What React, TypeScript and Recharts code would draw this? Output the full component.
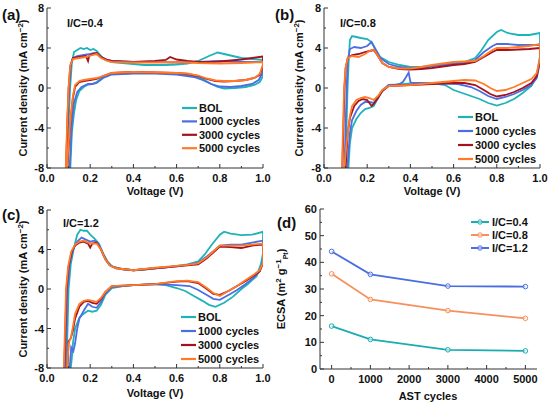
import React from 'react';
import { LineChart, Line, XAxis, YAxis } from 'recharts';

type P = [number, number];

const seriesNames = ['BOL', '1000 cycles', '3000 cycles', '5000 cycles'];
const seriesColors = ['#1db3b9', '#4b6fe3', '#a3121f', '#ff7b29'];

const cvTicksX = [0, 0.1, 0.2, 0.3, 0.4, 0.5, 0.6, 0.7, 0.8, 0.9, 1.0];
const cvTicksY = [-8, -6, -4, -2, 0, 2, 4, 6, 8];

// ---------- Panel (a) I/C=0.4 ----------
const a_BOL: P[] = [[0.092,-8],[0.1,-3.5],[0.107,0],[0.115,2.5],[0.125,3.6],[0.14,3.8],[0.155,4.0],[0.17,3.9],[0.185,4.0],[0.2,3.8],[0.215,3.9],[0.23,3.7],[0.25,3.2],[0.27,2.8],[0.3,2.6],[0.35,2.5],[0.4,2.4],[0.45,2.3],[0.5,2.3],[0.55,2.3],[0.6,2.35],[0.65,2.45],[0.7,2.7],[0.75,3.2],[0.79,3.55],[0.82,3.4],[0.86,3.2],[0.9,3.0],[0.95,2.9],[1.0,2.8],
  [1.0,1.2],[0.985,0.6],[0.96,0.3],[0.92,0.1],[0.87,0.0],[0.82,-0.05],[0.79,0.1],[0.76,0.4],[0.73,0.8],[0.7,1.1],[0.65,1.35],[0.6,1.45],[0.5,1.5],[0.4,1.5],[0.3,1.4],[0.26,1.1],[0.23,0.6],[0.21,0.4],[0.19,0.35],[0.17,0.1],[0.15,-0.3],[0.135,-1.2],[0.125,-2.5],[0.115,-4.5],[0.108,-8]];
const a_1000: P[] = [[0.09,-8],[0.097,-3],[0.103,0],[0.11,2.3],[0.12,3.0],[0.14,3.2],[0.17,3.3],[0.2,3.4],[0.22,3.5],[0.25,3.1],[0.28,2.8],[0.3,2.7],[0.4,2.6],[0.5,2.6],[0.6,2.55],[0.7,2.6],[0.8,2.7],[0.9,2.6],[1.0,2.6],
  [1.0,1.6],[0.98,0.8],[0.95,0.4],[0.9,0.2],[0.85,0.1],[0.8,0.15],[0.76,0.4],[0.72,0.8],[0.68,1.1],[0.6,1.35],[0.5,1.45],[0.4,1.45],[0.3,1.35],[0.26,1.0],[0.23,0.5],[0.21,0.4],[0.19,0.4],[0.16,0.1],[0.14,-0.4],[0.125,-1.5],[0.115,-3.5],[0.105,-8]];
const a_3000: P[] = [[0.088,-8],[0.095,-3],[0.1,0],[0.108,2.2],[0.12,3.0],[0.15,3.1],[0.18,3.2],[0.19,2.7],[0.195,3.2],[0.21,3.4],[0.23,3.5],[0.25,3.1],[0.28,2.8],[0.3,2.7],[0.35,2.65],[0.4,2.6],[0.45,2.65],[0.5,2.7],[0.55,2.8],[0.57,3.1],[0.6,2.85],[0.65,2.7],[0.7,2.6],[0.75,2.6],[0.8,2.65],[0.85,2.75],[0.9,2.85],[0.95,3.0],[1.0,3.15],
  [1.0,2.2],[0.985,1.3],[0.96,1.0],[0.92,0.8],[0.87,0.7],[0.82,0.65],[0.78,0.7],[0.74,0.9],[0.7,1.2],[0.65,1.4],[0.6,1.5],[0.5,1.55],[0.4,1.6],[0.3,1.5],[0.26,1.2],[0.23,0.9],[0.2,0.8],[0.17,0.7],[0.15,0.6],[0.13,0.1],[0.12,-1],[0.11,-3],[0.1,-6],[0.095,-8]];
const a_5000: P[] = [[0.087,-8],[0.094,-3],[0.1,0],[0.107,2.2],[0.12,2.9],[0.15,3.0],[0.18,3.1],[0.21,3.3],[0.23,3.4],[0.25,3.0],[0.28,2.7],[0.3,2.6],[0.4,2.55],[0.5,2.55],[0.6,2.6],[0.65,2.55],[0.7,2.5],[0.8,2.45],[0.9,2.5],[0.95,2.55],[1.0,2.6],
  [1.0,2.4],[0.985,1.4],[0.96,1.0],[0.92,0.8],[0.87,0.7],[0.82,0.7],[0.78,0.75],[0.74,0.95],[0.7,1.25],[0.65,1.45],[0.6,1.5],[0.5,1.55],[0.4,1.6],[0.3,1.5],[0.26,1.2],[0.23,1.0],[0.2,0.9],[0.17,0.8],[0.15,0.7],[0.13,0.3],[0.12,-0.8],[0.11,-2.8],[0.1,-5.5],[0.093,-8]];

// ---------- Panel (b) I/C=0.8 ----------
const b_BOL: P[] = [[0.098,-8],[0.104,-4],[0.109,0],[0.115,3.0],[0.12,4.8],[0.13,5.2],[0.15,5.1],[0.17,5.0],[0.2,4.9],[0.22,4.6],[0.24,3.8],[0.26,3.1],[0.3,2.6],[0.35,2.3],[0.4,2.1],[0.45,2.1],[0.5,2.2],[0.55,2.35],[0.6,2.5],[0.65,2.6],[0.7,3.0],[0.73,3.8],[0.76,4.8],[0.8,5.6],[0.82,5.8],[0.85,5.5],[0.9,5.3],[0.95,5.3],[1.0,5.5],
  [1.0,3.2],[0.985,1.2],[0.96,0.2],[0.92,-0.5],[0.88,-1.1],[0.84,-1.5],[0.8,-1.75],[0.76,-1.5],[0.72,-1.1],[0.68,-0.8],[0.64,-0.5],[0.6,-0.2],[0.56,0.3],[0.5,0.5],[0.45,0.5],[0.4,0.45],[0.35,0.35],[0.3,0.3],[0.27,-0.3],[0.25,-1.0],[0.23,-1.8],[0.21,-2.0],[0.19,-2.1],[0.17,-2.5],[0.15,-3.1],[0.13,-4.0],[0.12,-5.5],[0.113,-8]];
const b_1000: P[] = [[0.095,-8],[0.1,-4],[0.105,0],[0.11,2.8],[0.12,3.9],[0.14,4.1],[0.17,4.0],[0.2,4.2],[0.22,4.6],[0.24,3.8],[0.26,3.0],[0.3,2.4],[0.35,2.1],[0.4,2.0],[0.45,2.0],[0.5,2.2],[0.55,2.3],[0.6,2.4],[0.65,2.5],[0.7,2.8],[0.74,3.6],[0.78,4.2],[0.8,4.4],[0.85,4.4],[0.9,4.3],[0.95,4.3],[1.0,4.3],
  [1.0,2.6],[0.985,1.0],[0.96,0.3],[0.92,-0.2],[0.88,-0.6],[0.84,-0.9],[0.8,-1.1],[0.76,-0.8],[0.72,-0.3],[0.68,0.1],[0.62,0.4],[0.55,0.45],[0.5,0.45],[0.45,0.5],[0.41,0.5],[0.4,0.6],[0.392,1.55],[0.38,1.1],[0.365,0.6],[0.35,0.4],[0.33,0.3],[0.3,0.3],[0.27,-0.2],[0.25,-0.9],[0.23,-1.5],[0.21,-1.4],[0.19,-1.4],[0.17,-1.7],[0.15,-2.3],[0.13,-3.2],[0.12,-4.5],[0.108,-8]];
const b_3000: P[] = [[0.085,-8],[0.09,-4],[0.095,0],[0.1,2.0],[0.11,3.0],[0.13,3.3],[0.16,3.4],[0.19,3.6],[0.21,3.7],[0.23,3.8],[0.25,3.2],[0.27,2.5],[0.3,2.1],[0.35,1.9],[0.4,1.85],[0.45,1.9],[0.5,2.0],[0.55,2.15],[0.6,2.3],[0.65,2.4],[0.7,2.6],[0.74,3.1],[0.78,3.6],[0.8,3.8],[0.85,3.8],[0.9,3.85],[0.95,3.9],[1.0,4.0],
  [1.0,2.8],[0.985,1.2],[0.96,0.5],[0.92,0.0],[0.88,-0.4],[0.84,-0.7],[0.8,-0.85],[0.77,-0.6],[0.74,-0.2],[0.7,0.3],[0.65,0.5],[0.6,0.5],[0.5,0.4],[0.4,0.3],[0.35,0.25],[0.3,0.2],[0.27,-0.3],[0.25,-1.0],[0.23,-1.6],[0.22,-1.8],[0.2,-1.2],[0.18,-1.1],[0.16,-1.3],[0.14,-1.8],[0.12,-3.0],[0.11,-4.5],[0.1,-8]];
const b_5000: P[] = [[0.083,-8],[0.088,-4],[0.093,0],[0.1,2.0],[0.11,3.0],[0.13,3.2],[0.16,3.1],[0.19,3.4],[0.21,3.7],[0.23,3.85],[0.25,3.2],[0.27,2.5],[0.3,2.1],[0.35,1.95],[0.4,1.95],[0.45,2.1],[0.5,2.3],[0.55,2.45],[0.6,2.6],[0.65,2.65],[0.7,2.7],[0.74,3.2],[0.78,3.8],[0.8,4.0],[0.85,4.0],[0.9,4.1],[0.95,4.2],[1.0,4.4],
  [1.0,3.0],[0.985,1.5],[0.96,0.9],[0.92,0.5],[0.88,0.1],[0.84,-0.2],[0.8,-0.3],[0.77,0.0],[0.74,0.4],[0.7,0.75],[0.65,0.8],[0.6,0.7],[0.5,0.5],[0.4,0.3],[0.3,0.2],[0.27,-0.2],[0.25,-0.8],[0.23,-1.2],[0.21,-1.0],[0.19,-0.9],[0.17,-1.0],[0.15,-1.2],[0.13,-1.8],[0.12,-2.8],[0.11,-4.5],[0.1,-6.5],[0.095,-8]];

// ---------- Panel (c) I/C=1.2 ----------
const c_BOL: P[] = [[0.09,-8],[0.095,-4],[0.1,0],[0.11,2.5],[0.125,4.2],[0.14,5.5],[0.155,6.0],[0.17,5.9],[0.185,5.9],[0.2,5.5],[0.22,5.1],[0.24,4.6],[0.26,3.6],[0.28,2.8],[0.3,2.3],[0.35,2.0],[0.4,1.9],[0.45,1.95],[0.5,2.1],[0.55,2.2],[0.6,2.35],[0.65,2.5],[0.7,2.8],[0.73,3.5],[0.76,4.4],[0.8,5.5],[0.82,5.8],[0.85,5.6],[0.9,5.45],[0.95,5.5],[1.0,5.8],
  [1.0,3.6],[0.99,2.5],[0.97,1.3],[0.93,0.5],[0.9,0.0],[0.86,-0.8],[0.82,-1.4],[0.78,-1.8],[0.75,-1.6],[0.72,-1.2],[0.68,-0.7],[0.64,-0.2],[0.6,0.1],[0.55,0.4],[0.5,0.5],[0.4,0.4],[0.35,0.3],[0.3,0.1],[0.27,-0.6],[0.25,-1.6],[0.23,-2.2],[0.21,-2.3],[0.19,-2.2],[0.17,-2.5],[0.15,-2.9],[0.13,-4.0],[0.12,-5.5],[0.115,-7.0],[0.11,-8]];
const c_1000: P[] = [[0.085,-8],[0.09,-4],[0.095,0],[0.105,2.5],[0.12,4.0],[0.14,4.8],[0.16,5.2],[0.18,5.0],[0.2,4.8],[0.22,4.9],[0.24,4.5],[0.26,3.5],[0.28,2.7],[0.3,2.3],[0.35,2.0],[0.4,1.9],[0.5,2.1],[0.6,2.3],[0.65,2.45],[0.7,2.65],[0.74,3.3],[0.78,4.0],[0.8,4.4],[0.85,4.5],[0.9,4.5],[0.95,4.7],[1.0,4.9],
  [1.0,2.9],[0.985,1.8],[0.96,1.2],[0.92,0.5],[0.88,-0.1],[0.84,-0.6],[0.8,-1.1],[0.77,-1.0],[0.74,-0.6],[0.7,-0.1],[0.66,0.3],[0.6,0.4],[0.5,0.5],[0.4,0.4],[0.3,0.2],[0.27,-0.5],[0.25,-1.3],[0.23,-1.9],[0.21,-1.8],[0.19,-1.5],[0.17,-2.2],[0.15,-3.0],[0.14,-4.0],[0.13,-5.5],[0.122,-6.3],[0.112,-5.9],[0.105,-8]];
const c_3000: P[] = [[0.08,-8],[0.085,-4],[0.09,0],[0.1,2.3],[0.115,3.8],[0.13,4.4],[0.15,4.7],[0.17,4.8],[0.19,4.6],[0.2,4.2],[0.21,4.6],[0.23,4.7],[0.25,4.0],[0.27,3.0],[0.29,2.4],[0.32,2.1],[0.4,1.9],[0.5,2.1],[0.6,2.3],[0.65,2.4],[0.7,2.5],[0.74,3.1],[0.78,3.9],[0.8,4.3],[0.85,4.25],[0.9,4.15],[0.95,4.4],[1.0,4.5],
  [1.0,2.6],[0.985,1.8],[0.96,1.4],[0.92,0.8],[0.88,0.3],[0.84,-0.2],[0.8,-0.6],[0.77,-0.5],[0.74,0.0],[0.7,0.6],[0.65,0.8],[0.6,0.75],[0.5,0.5],[0.4,0.4],[0.3,0.3],[0.27,-0.3],[0.25,-1.0],[0.23,-1.5],[0.21,-1.4],[0.19,-1.2],[0.17,-1.3],[0.15,-1.8],[0.13,-3.0],[0.12,-4.2],[0.11,-5.0],[0.1,-5.3],[0.095,-8]];
const c_5000: P[] = [[0.078,-8],[0.083,-4],[0.088,0],[0.098,2.3],[0.112,3.8],[0.13,4.5],[0.15,4.8],[0.17,4.9],[0.19,4.7],[0.21,4.6],[0.23,4.6],[0.25,4.0],[0.27,3.0],[0.29,2.4],[0.32,2.1],[0.4,1.9],[0.5,2.15],[0.6,2.35],[0.65,2.45],[0.7,2.6],[0.74,3.2],[0.78,4.0],[0.8,4.4],[0.85,4.4],[0.9,4.4],[0.95,4.5],[1.0,4.6],
  [1.0,2.7],[0.985,1.9],[0.96,1.5],[0.92,0.9],[0.88,0.3],[0.84,-0.2],[0.8,-0.7],[0.77,-0.4],[0.74,0.1],[0.7,0.7],[0.65,0.85],[0.6,0.8],[0.5,0.5],[0.4,0.4],[0.3,0.3],[0.27,-0.3],[0.25,-0.9],[0.23,-1.3],[0.21,-1.2],[0.19,-1.1],[0.17,-1.2],[0.15,-1.5],[0.13,-2.5],[0.12,-3.8],[0.11,-5.0],[0.105,-5.2],[0.1,-5.6],[0.093,-8]];

// ---------- Panel (d) ECSA ----------
const astCycles = [0, 1000, 3000, 5000];
const ecsa04 = [16.1, 11.1, 7.2, 6.8];
const ecsa08 = [35.7, 26.1, 21.9, 19.0];
const ecsa12 = [44.1, 35.5, 31.1, 30.9];
const ecsaNames = ['I/C=0.4', 'I/C=0.8', 'I/C=1.2'];
const ecsaColors = ['#1aacb1', '#f7905c', '#4a6ee0'];
const dTicksX = [0, 500, 1000, 1500, 2000, 2500, 3000, 3500, 4000, 4500, 5000];
const dTicksY = [0, 5, 10, 15, 20, 25, 30, 35, 40, 45, 50, 55, 60];

const axisColor = '#333';
const FONT = '"Liberation Sans", Arial, sans-serif';

const toPts = (arr: P[]) => arr.map(([v, j]) => ({ v, j }));

const makeXTick = (isMajor: (v: number) => boolean, fmt: (v: number) => string) => (props: any) => {
  const { x, y, payload } = props;
  const major = isMajor(payload.value);
  return (
    <g>
      <line x1={x} x2={x} y1={y} y2={y - (major ? 4 : 2)} stroke={axisColor} strokeWidth={1} />
      {major && (
        <text x={x} y={y + 14} textAnchor="middle" fontSize={11} fontWeight="bold" fontFamily={FONT} fill="#111">
          {fmt(payload.value)}
        </text>
      )}
    </g>
  );
};
const makeYTick = (isMajor: (v: number) => boolean, fmt: (v: number) => string) => (props: any) => {
  const { x, y, payload } = props;
  const major = isMajor(payload.value);
  return (
    <g>
      <line x1={x} x2={x + (major ? 4 : 2)} y1={y} y2={y} stroke={axisColor} strokeWidth={1} />
      {major && (
        <text x={x - 3} y={y + 4} textAnchor="end" fontSize={11} fontWeight="bold" fontFamily={FONT} fill="#111">
          {fmt(payload.value)}
        </text>
      )}
    </g>
  );
};

const cvXTick = makeXTick((v) => Math.round(v * 10) % 2 === 0, (v) => v.toFixed(1));
const cvYTick = makeYTick((v) => Math.round(v) % 4 === 0, (v) => String(v));
const dXTick = makeXTick((v) => v % 1000 === 0, (v) => String(v));
const dYTick = makeYTick((v) => v % 10 === 0, (v) => String(v));

interface CVProps {
  left: number;
  top: number;
  height: number;
  margin: { top: number; right: number; left: number; bottom: number };
  yWidth: number;
  xHeight: number;
  loops: P[][];
}

const CVPanel = ({ left, top, height, margin, yWidth, xHeight, loops }: CVProps) => (
  <div style={{ position: 'absolute', left, top }}>
    <LineChart width={275} height={height} margin={margin}>
      <XAxis
        xAxisId="b"
        dataKey="v"
        type="number"
        domain={[0, 1]}
        allowDataOverflow
        ticks={cvTicksX}
        interval={0}
        tickSize={0}
        tickMargin={0}
        tickLine={false}
        tick={cvXTick}
        height={xHeight}
        axisLine={{ stroke: axisColor }}
      />
      <XAxis xAxisId="t" orientation="top" type="number" domain={[0, 1]} allowDataOverflow tick={false} tickLine={false} height={0} axisLine={{ stroke: axisColor }} />
      <YAxis
        yAxisId="l"
        type="number"
        domain={[-8, 8]}
        allowDataOverflow
        ticks={cvTicksY}
        interval={0}
        tickSize={0}
        tickMargin={0}
        tickLine={false}
        tick={cvYTick}
        width={yWidth}
        axisLine={{ stroke: axisColor }}
      />
      <YAxis yAxisId="r" orientation="right" type="number" domain={[-8, 8]} allowDataOverflow tick={false} tickLine={false} width={0} axisLine={{ stroke: axisColor }} />
      {loops.map((loop, i) => (
        <Line
          key={i}
          xAxisId="b"
          yAxisId="l"
          data={toPts(loop)}
          dataKey="j"
          type="linear"
          stroke={seriesColors[i]}
          strokeWidth={1.8}
          dot={false}
          isAnimationActive={false}
        />
      ))}
    </LineChart>
  </div>
);

const ecsaTable = astCycles.map((c, i) => ({ c, s0: ecsa04[i], s1: ecsa08[i], s2: ecsa12[i] }));

const ECSAPanel = () => (
  <div style={{ position: 'absolute', left: 275, top: 200 }}>
    <LineChart width={275} height={205} data={ecsaTable} margin={{ top: 9, right: 13, left: 0, bottom: 0 }}>
      <XAxis
        xAxisId="b"
        dataKey="c"
        type="number"
        domain={[-300, 5300]}
        allowDataOverflow
        ticks={dTicksX}
        interval={0}
        tickSize={0}
        tickMargin={0}
        tickLine={false}
        tick={dXTick}
        height={36}
        axisLine={{ stroke: axisColor }}
      />
      <XAxis xAxisId="t" orientation="top" type="number" domain={[-300, 5300]} allowDataOverflow tick={false} tickLine={false} height={0} axisLine={{ stroke: axisColor }} />
      <YAxis
        yAxisId="l"
        type="number"
        domain={[0, 60]}
        allowDataOverflow
        ticks={dTicksY}
        interval={0}
        tickSize={0}
        tickMargin={0}
        tickLine={false}
        tick={dYTick}
        width={45}
        axisLine={{ stroke: axisColor }}
      />
      <YAxis yAxisId="r" orientation="right" type="number" domain={[0, 60]} allowDataOverflow tick={false} tickLine={false} width={0} axisLine={{ stroke: axisColor }} />
      {['s0', 's1', 's2'].map((k, i) => (
        <Line
          key={k}
          xAxisId="b"
          yAxisId="l"
          dataKey={k}
          type="linear"
          stroke={ecsaColors[i]}
          strokeWidth={1.8}
          dot={{ r: 2.3, stroke: ecsaColors[i], strokeWidth: 1, fill: '#fff', fillOpacity: 0.5 }}
          isAnimationActive={false}
        />
      ))}
    </LineChart>
  </div>
);

const txt = { fontFamily: FONT, fontWeight: 'bold' as const, fill: '#111' };

const CVLegend = ({ x, y, step }: { x: number; y: number; step: number }) => (
  <g>
    {seriesNames.map((n, i) => (
      <g key={n}>
        <line x1={x} x2={x + 15} y1={y + i * step} y2={y + i * step} stroke={seriesColors[i]} strokeWidth={2.2} />
        <text x={x + 17} y={y + i * step + 4} fontSize={11} {...txt}>{n}</text>
      </g>
    ))}
  </g>
);

const YTitleCV = ({ x, y }: { x: number; y: number }) => (
  <text transform={`translate(${x},${y}) rotate(-90)`} textAnchor="middle" fontSize={11} {...txt}>
    Current density (mA cm<tspan dy={-4} fontSize={8}>−2</tspan><tspan dy={4}>)</tspan>
  </text>
);

export default function App() {
  return (
    <div style={{ position: 'relative', width: 550, height: 405, background: '#fff', overflow: 'hidden' }}>
      <style>{`body{margin:0;}`}</style>
      <CVPanel left={0} top={0} height={200} margin={{ top: 8, right: 12, left: 0, bottom: 0 }} yWidth={47} xHeight={32} loops={[a_BOL, a_1000, a_3000, a_5000]} />
      <CVPanel left={275} top={0} height={200} margin={{ top: 8, right: 10, left: 0, bottom: 0 }} yWidth={49} xHeight={32} loops={[b_BOL, b_1000, b_3000, b_5000]} />
      <CVPanel left={0} top={200} height={205} margin={{ top: 10, right: 12, left: 0, bottom: 0 }} yWidth={47} xHeight={37} loops={[c_BOL, c_1000, c_3000, c_5000]} />
      <ECSAPanel />
      <svg width={550} height={405} style={{ position: 'absolute', left: 0, top: 0, pointerEvents: 'none' }}>
        {/* panel labels */}
        <text x={2} y={20} fontSize={15} {...txt}>(a)</text>
        <text x={275} y={20} fontSize={15} {...txt}>(b)</text>
        <text x={2} y={220} fontSize={15} {...txt}>(c)</text>
        <text x={277} y={228} fontSize={15} {...txt}>(d)</text>
        {/* I/C labels */}
        <text x={67} y={27} fontSize={11} {...txt}>I/C=0.4</text>
        <text x={340} y={27} fontSize={11} {...txt}>I/C=0.8</text>
        <text x={63} y={227} fontSize={11} {...txt}>I/C=1.2</text>
        {/* axis titles */}
        <YTitleCV x={27} y={88} />
        <YTitleCV x={303} y={88} />
        <YTitleCV x={27} y={289} />
        <text x={155} y={195} textAnchor="middle" fontSize={11} {...txt}>Voltage (V)</text>
        <text x={432} y={195} textAnchor="middle" fontSize={11} {...txt}>Voltage (V)</text>
        <text x={155} y={397} textAnchor="middle" fontSize={11} {...txt}>Voltage (V)</text>
        <text x={428} y={400} textAnchor="middle" fontSize={11} {...txt}>AST cycles</text>
        <text transform="translate(285,289) rotate(-90)" textAnchor="middle" fontSize={11} {...txt}>
          ECSA (m<tspan dy={-4} fontSize={8}>2</tspan><tspan dy={4}> g</tspan><tspan dy={-4} fontSize={8}>−1</tspan><tspan dy={7} fontSize={7}>Pt</tspan><tspan dy={-3}>)</tspan>
        </text>
        {/* legends */}
        <CVLegend x={182} y={108} step={13.4} />
        <CVLegend x={458} y={117} step={14} />
        <CVLegend x={181} y={317} step={14} />
        {ecsaNames.map((n, i) => (
          <g key={n}>
            <line x1={471} x2={489} y1={222 + i * 13} y2={222 + i * 13} stroke={ecsaColors[i]} strokeWidth={2} />
            <circle cx={480} cy={222 + i * 13} r={2.2} stroke={ecsaColors[i]} fill="#fff" fillOpacity={0.5} />
            <text x={492} y={226 + i * 13} fontSize={11} {...txt}>{n}</text>
          </g>
        ))}
      </svg>
    </div>
  );
}
